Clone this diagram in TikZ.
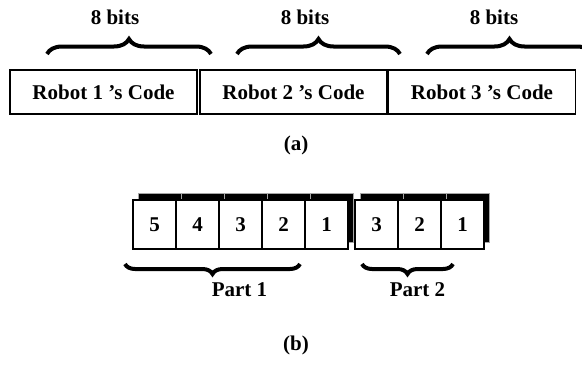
\documentclass[tikz,border=0pt]{standalone}
\usepackage{fontspec}
\setmainfont{Liberation Serif}
\usepackage{tikz}
\usetikzlibrary{decorations.pathreplacing}
\tikzset{
  lbl/.style={font=\fontsize{10.5}{12}\selectfont\bfseries,inner sep=0pt},
  codebox/.style={draw,line width=0.8pt,minimum width=93.5pt,minimum height=22pt,inner sep=0pt,lbl},
  cell/.style={draw,fill=white,line width=0.8pt,minimum width=21.5pt,minimum height=24.5pt,inner sep=0pt,outer sep=0pt,lbl},
  shd/.style={fill=black,draw=white!65!black,line width=0.25pt},
  brc/.style={decorate,decoration={brace,amplitude=#1},line width=2pt},
}

\begin{document}
\begin{tikzpicture}[x=0.5pt,y=-0.5pt]
\useasboundingbox (0,0) rectangle (582,364);
% (a) three codes of 8 bits
\node[codebox] (r1) at (103.5,92) {Robot 1 's Code};
\node[codebox] (r2) at (293.5,92) {Robot 2 's Code};
\node[codebox] (r3) at (482,92) {Robot 3 's Code};
\draw[brc=7.5pt] (47,54)--(211,54);
\draw[brc=7.5pt] (237,54)--(400,54);
\draw[brc=7.5pt] (427,54)--(592,54);
\foreach \x/\n in {115/b1,305/b2,494/b3} \node[lbl] (\n) at (\x,17.5) {8 bits};
\node[lbl] (capa) at (296,145) {(a)};
% (b) cells with shadow
\foreach \x in {133,176,219,262,305,355,398,441} \filldraw[shd] (\x+5,193) rectangle ++(43,49);
\foreach \d [count=\i] in {5,4,3,2,1} \node[cell] (a\i) at ({154.5+43*(\i-1)},224.5) {\d};
\foreach \d [count=\i] in {3,2,1} \node[cell] (c\i) at ({376.5+43*(\i-1)},224.5) {\d};
\draw[brc=5pt] (300,264)--(125,264);
\draw[brc=5pt] (453,264)--(362,264);
\node[lbl] (part1) at (239.5,290) {Part 1};
\node[lbl] (part2) at (417.5,290) {Part 2};
\node[lbl] (capb) at (296,345) {(b)};
\end{tikzpicture}
\end{document}
